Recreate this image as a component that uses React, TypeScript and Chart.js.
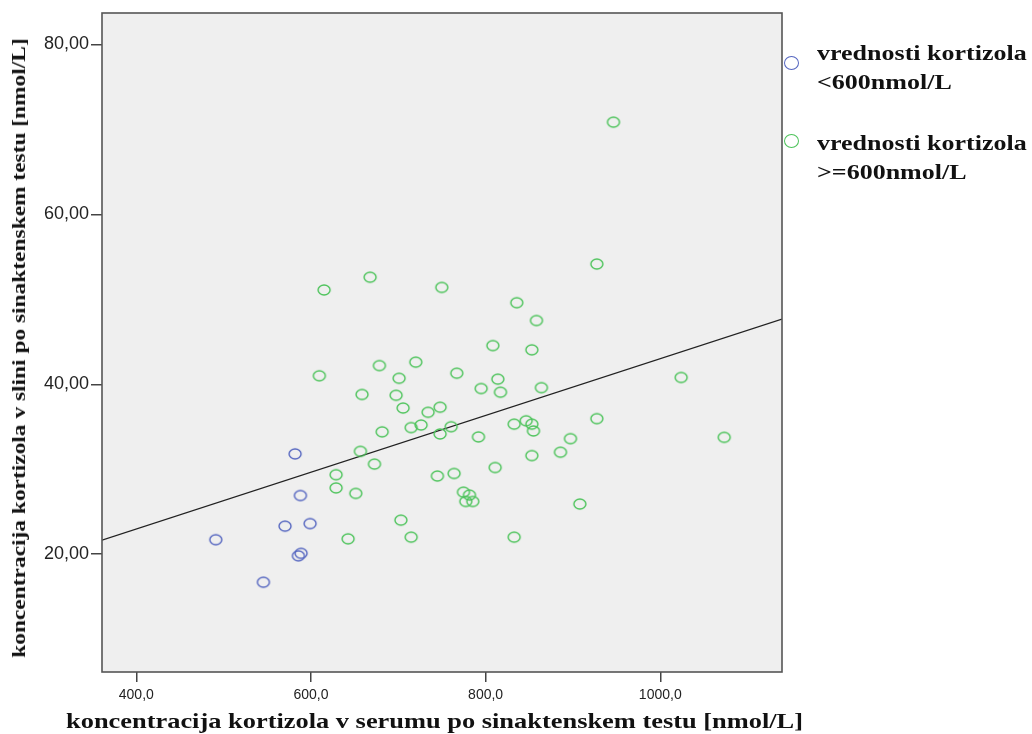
import React, { useEffect, useRef } from "react";
import { Chart, registerables } from "chart.js";

Chart.register(...registerables);

// Serum cortisol (x) and salivary cortisol (y) — group < 600 nmol/L
const lowX = [491.0, 581.8, 587.9, 570.3, 599.0, 585.6, 588.7, 545.5];
const lowY = [21.7, 31.8, 26.9, 23.3, 23.6, 19.8, 20.1, 16.7];

// group >= 600 nmol/L
const highX = [
  609.6, 678.4, 700.9, 658.5, 697.5, 705.5, 681.5, 656.6, 672.7, 628.8,
  628.8, 651.3, 642.5, 703.0, 615.0, 667.7, 749.8, 946.4, 927.4, 835.7,
  858.2, 808.3, 852.9, 720.0, 767.0, 814.0, 794.9, 817.0, 863.9, 1023.9,
  734.1, 747.9, 714.7, 726.1, 747.9, 760.5, 791.8, 832.7, 846.4, 852.9,
  854.8, 927.4, 897.2, 885.7, 852.9, 810.9, 744.8, 763.9, 774.6, 781.5,
  777.3, 785.3, 907.9, 1073.2, 714.7, 832.7,
];
const highY = [
  41.0, 42.2, 40.7, 38.8, 38.7, 37.2, 34.4, 32.1, 30.6, 29.35,
  27.8, 27.15, 21.8, 24.0, 51.1, 52.6, 51.4, 70.85, 54.15, 49.6,
  47.5, 44.55, 44.05, 42.6, 41.3, 40.6, 39.5, 39.06, 39.6, 40.8,
  36.7, 37.3, 34.9, 35.2, 34.15, 35.0, 33.8, 35.3, 35.7, 35.3,
  34.5, 35.95, 33.6, 32.0, 31.6, 30.2, 29.2, 29.5, 27.3, 26.95,
  26.2, 26.2, 25.9, 33.75, 22.0, 22.0,
];

// Fit line (total sample)
const fitIntercept = 9.6;
const fitSlope = 0.03341;

const xRange = [360.7, 1139.4];
const yRange = [6.13, 83.7];
const xTicks = [400, 600, 800, 1000];
const yTicks = [20, 40, 60, 80];

const legendLabels = [
  ["vrednosti kortizola", "<600nmol/L"],
  ["vrednosti kortizola", ">=600nmol/L"],
];
const xTitle = "koncentracija kortizola v serumu po sinaktenskem testu [nmol/L]";
const yTitle = "koncentracija kortizola v slini po sinaktenskem testu [nmol/L]";

const BLUE = "#5566c0";
const GREEN = "#4cc35a";

function makeMarker(color: string, w: number, h: number, lw: number) {
  const c = document.createElement("canvas");
  c.width = w + 4;
  c.height = h + 4;
  const ctx = c.getContext("2d")!;
  ctx.strokeStyle = color;
  ctx.lineWidth = lw;
  ctx.beginPath();
  ctx.ellipse(c.width / 2, c.height / 2, w / 2, h / 2, 0, 0, Math.PI * 2);
  ctx.stroke();
  return c;
}

const framePlugin = {
  id: "frame",
  beforeDraw(chart: any) {
    const { ctx, chartArea: a } = chart;
    ctx.save();
    ctx.fillStyle = "#efefef";
    ctx.fillRect(a.left, a.top, a.right - a.left, a.bottom - a.top);
    ctx.restore();
  },
  afterDraw(chart: any) {
    const { ctx, chartArea: a } = chart;
    ctx.save();
    ctx.strokeStyle = "#555";
    ctx.lineWidth = 1.6;
    ctx.strokeRect(a.left, a.top, a.right - a.left, a.bottom - a.top);
    ctx.restore();
  },
};

export default function App() {
  const ref = useRef<HTMLCanvasElement>(null);
  useEffect(() => {
    const blueM = makeMarker(BLUE, 12, 10, 1.4);
    const greenM = makeMarker(GREEN, 12, 10, 1.4);
    const chart = new Chart(ref.current!, {
      type: "scatter",
      data: {
        datasets: [
          {
            label: legendLabels[0].join(" "),
            data: lowX.map((x, i) => ({ x, y: lowY[i] })),
            pointStyle: blueM as any,
            pointRadius: 6,
          },
          {
            label: legendLabels[1].join(" "),
            data: highX.map((x, i) => ({ x, y: highY[i] })),
            pointStyle: greenM as any,
            pointRadius: 6,
          },
          {
            type: "line",
            label: "fit",
            data: xRange.map((x) => ({ x, y: fitIntercept + fitSlope * x })),
            borderColor: "#222",
            borderWidth: 1.3,
            pointRadius: 0,
            fill: false,
          } as any,
        ],
      },
      options: {
        responsive: false,
        animation: false,
        events: [],
        layout: { padding: { left: 0, top: 13, right: 250, bottom: 0 } },
        plugins: { legend: { display: false }, tooltip: { enabled: false } },
        scales: {
          x: {
            type: "linear",
            min: xRange[0],
            max: xRange[1],
            afterFit: (s: any) => {
              s.height = 62;
            },
            afterBuildTicks: (s: any) => {
              s.ticks = xTicks.map((v) => ({ value: v }));
            },
            grid: { drawOnChartArea: false, drawTicks: true, tickLength: 10, color: "#444", lineWidth: 1.5 },
            border: { display: false },
            ticks: {
              padding: 5,
              color: "#222",
              font: { family: "Liberation Sans, Arial, sans-serif", size: 14 },
              maxRotation: 0,
              callback: (v: any) => Number(v).toFixed(1).replace(".", ","),
            },
          },
          y: {
            type: "linear",
            min: yRange[0],
            max: yRange[1],
            afterFit: (s: any) => {
              s.width = 102;
            },
            afterBuildTicks: (s: any) => {
              s.ticks = yTicks.map((v) => ({ value: v }));
            },
            grid: { drawOnChartArea: false, drawTicks: true, tickLength: 11, color: "#444", lineWidth: 1.5 },
            border: { display: false },
            ticks: {
              padding: 2,
              color: "#222",
              font: { family: "Liberation Sans, Arial, sans-serif", size: 18 },
              callback: (v: any) => Number(v).toFixed(2).replace(".", ","),
            },
          },
        },
      },
      plugins: [framePlugin],
    });
    return () => chart.destroy();
  }, []);

  const serif = "'Liberation Serif', 'Times New Roman', serif";
  return (
    <div style={{ position: "absolute", left: 0, top: 0, width: 1032, height: 734, background: "#fff", overflow: "hidden" }}>
      <canvas ref={ref} width={1032} height={734} style={{ position: "absolute", left: 0, top: 0 }} />
      {legendLabels.map((lines, i) => (
        <div key={i}>
          <div
            style={{
              position: "absolute",
              left: 784,
              top: 56 + i * 78,
              width: 13,
              height: 12,
              borderRadius: "50%",
              border: `1.5px solid ${i === 0 ? BLUE : GREEN}`,
            }}
          />
          <div
            style={{
              position: "absolute",
              left: 817,
              top: 39 + i * 90,
              fontFamily: serif,
              fontWeight: "bold",
              fontSize: 20,
              lineHeight: "29px",
              color: "#111",
              whiteSpace: "nowrap",
              transform: "scaleX(1.3)",
              transformOrigin: "left top",
            }}
          >
            {lines[0]}
            <br />
            {lines[1]}
          </div>
        </div>
      ))}
      <div
        style={{
          position: "absolute",
          left: 66,
          top: 708,
          fontFamily: serif,
          fontWeight: "bold",
          fontSize: 22,
          lineHeight: "26px",
          color: "#111",
          whiteSpace: "nowrap",
          transform: "scaleX(1.2)",
          transformOrigin: "left top",
        }}
      >
        {xTitle}
      </div>
      <div
        style={{
          position: "absolute",
          left: 19,
          top: 348,
          transform: "translate(-50%, -50%) rotate(-90deg) scaleX(1.3)",
          fontFamily: serif,
          fontWeight: "bold",
          fontSize: 18,
          lineHeight: "22px",
          color: "#111",
          whiteSpace: "nowrap",
        }}
      >
        {yTitle}
      </div>
    </div>
  );
}
